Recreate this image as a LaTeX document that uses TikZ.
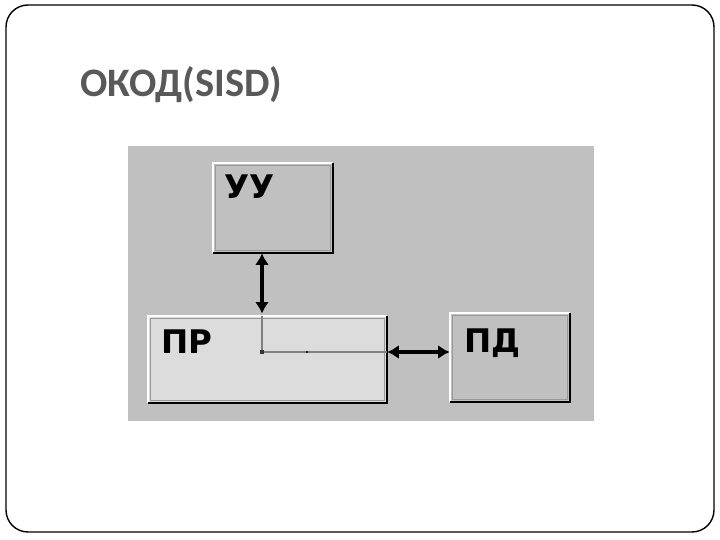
\documentclass[tikz,border=0pt]{standalone}
\usepackage{fontspec}
\usetikzlibrary{arrows.meta}
\setmainfont{Carlito}
\newfontfamily\boxfont{DejaVu Sans}
\definecolor{panelgray}{HTML}{C0C0C0}
\definecolor{lightbox}{HTML}{DCDCDC}
\definecolor{titlegray}{HTML}{595959}
\tikzset{
  unitbox/.style={draw=none, inner sep=0pt, minimum width=2.4cm, minimum height=1.8cm},
  boxlabel/.style={anchor=north west, inner sep=0pt, font=\boxfont\bfseries\fontsize{18.5}{19}\selectfont},
  busarrow/.style={line width=2.8pt, {Latex[length=6.5pt,width=8pt]}-{Latex[length=6.5pt,width=8pt]}},
  wire/.style={gray, line width=0.7pt}
}
% 3D border of a box: light top/left, dark bottom/right
\newcommand\bevel[1]{
  \draw[white, line width=1.2pt] (#1.south west) -- (#1.north west) -- (#1.north east);
  \draw[black, line width=1.2pt] (#1.north east) -- (#1.south east) -- (#1.south west);
  \draw[gray!80, line width=0.6pt] ([shift={(3,3)}]#1.north west) rectangle ([shift={(-3,-3)}]#1.south east);
}
\begin{document}
\begin{tikzpicture}[x=0.02cm, y=-0.02cm]
  \useasboundingbox (0,0) rectangle (720,540);
  % slide frame and title
  \draw[line width=0.8pt, rounded corners=0.44cm] (6,5) rectangle (714,532);
  \node[anchor=base west, inner sep=0pt, text=titlegray, font=\bfseries\fontsize{23}{26}\selectfont] (title) at (80,97) {ОКОД(SISD)};

  % grey panel
  \fill[panelgray] (128,146) rectangle (594,421);

  % boxes
  \node[unitbox, fill=panelgray, minimum width=2.4cm, minimum height=1.8cm] (uu) at (273,208) {};
  \node[unitbox, fill=lightbox, minimum width=4.78cm, minimum height=1.74cm] (pr) at (267.5,359.5) {};
  \node[unitbox, fill=panelgray, minimum width=2.4cm, minimum height=1.78cm] (pd) at (510,357.5) {};
  \bevel{uu}
  \bevel{pr}
  \bevel{pd}

  \node[boxlabel] (uuT) at ([shift={(11,12)}]uu.north west) {УУ};
  \node[boxlabel] (prT) at ([shift={(13,14)}]pr.north west) {ПР};
  \node[boxlabel] (pdT) at ([shift={(14,16)}]pd.north west) {ПД};

  % internal wiring
  \coordinate (jn) at (262,352);
  \coordinate (tap) at (307,352);
  \draw[wire] (pr.north -| jn) -- (jn) -- (pr.east |- jn);
  \fill[gray!40!black] ([shift={(-2,-2)}]jn) rectangle ([shift={(2,2)}]jn);
  \fill[black] (tap) circle (0.6pt);

  % connections
  \draw[busarrow] (uu.south -| jn) -- ([yshift=1.2pt]pr.north -| jn);
  \draw[busarrow] (pr.east |- jn) -- (pd.west |- jn);
\end{tikzpicture}
\end{document}
